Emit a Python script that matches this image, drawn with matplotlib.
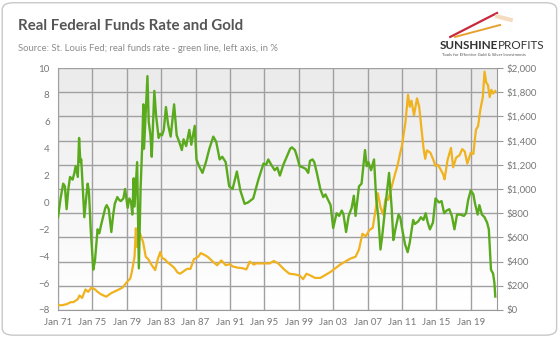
import numpy as np
import matplotlib
matplotlib.use("Agg")
from matplotlib import pyplot as plt
from matplotlib.patches import FancyBboxPatch

# Data (decimal year, value)
rate_years = [1971.0, 1971.3, 1971.6, 1971.8, 1972.0, 1972.2, 1972.4, 1972.7, 1972.9, 1973.05,
              1973.3, 1973.45, 1973.6, 1973.7, 1973.9, 1974.06, 1974.3, 1974.45, 1974.6, 1974.8,
              1975.1, 1975.3, 1975.6, 1975.8, 1976.0, 1976.27, 1976.5, 1976.66, 1976.9, 1977.2,
              1977.4, 1977.6, 1977.9, 1978.1, 1978.3, 1978.6, 1978.8, 1979.1, 1979.3, 1979.5,
              1979.64, 1979.8, 1979.9, 1980.2, 1980.4, 1980.6, 1980.8, 1980.92, 1981.0, 1981.15,
              1981.4, 1981.55, 1981.75, 1981.9, 1982.2, 1982.4, 1982.7, 1982.9, 1983.1, 1983.3,
              1983.55, 1983.8, 1984.1, 1984.5, 1984.8, 1985.1, 1985.4, 1985.6, 1985.9, 1986.27,
              1986.5, 1986.9, 1987.1, 1987.4, 1987.8, 1988.2, 1988.6, 1989.06, 1989.4, 1989.8,
              1990.1, 1990.5, 1990.9, 1991.3, 1991.8, 1992.2, 1992.5, 1992.7, 1993.1, 1993.7,
              1994.0, 1994.3, 1994.9, 1995.2, 1995.45, 1995.8, 1996.2, 1996.5, 1996.8, 1997.2,
              1997.6, 1998.0, 1998.2, 1998.55, 1998.8, 1999.1, 1999.5, 1999.8, 2000.1, 2000.3,
              2000.6, 2000.8, 2001.1, 2001.5, 2001.85, 2002.1, 2002.4, 2002.7, 2003.0, 2003.4,
              2003.7, 2004.0, 2004.2, 2004.5, 2004.8, 2005.15, 2005.4, 2005.6, 2006.0, 2006.3,
              2006.7, 2006.9, 2007.1, 2007.4, 2007.75, 2008.0, 2008.25, 2008.5, 2008.7, 2009.1,
              2009.5, 2009.8, 2010.0, 2010.2, 2010.6, 2010.8, 2011.0, 2011.35, 2011.66, 2011.9,
              2012.3, 2012.5, 2012.9, 2013.2, 2013.5, 2013.75, 2014.0, 2014.25, 2014.6, 2014.9,
              2015.3, 2015.6, 2015.9, 2016.2, 2016.5, 2016.8, 2017.1, 2017.4, 2017.8, 2018.2,
              2018.45, 2018.7, 2019.0, 2019.3, 2019.5, 2019.8, 2020.0, 2020.3, 2020.6, 2020.9,
              2021.1, 2021.35, 2021.6, 2021.75, 2021.85]
rate_vals = [-1.1, 0.3, 1.4, 1.2, -0.5, 1.0, 1.9, 1.7, 2.2, 2.7,
             1.9, 4.8, 3.0, 3.2, 0.8, -1.1, 0.5, 1.4, 0.8, -2.0,
             -5.0, -4.3, -2.0, -2.3, -1.7, -1.0, -0.4, -0.2, -0.5, -2.2,
             -1.0, -0.1, 0.4, 0.2, 0.1, 0.3, 1.0, -0.4, 0.3, 0.0,
             -0.9, 1.8, -0.3, 3.0, -4.9, 1.0, 4.4, 7.3, 4.0, 6.0,
             9.4, 6.0, 5.0, 3.4, 8.3, 6.5, 4.8, 5.1, 5.0, 5.4,
             7.1, 5.8, 4.9, 7.3, 5.0, 4.5, 3.9, 4.7, 4.2, 5.4,
             4.3, 5.7, 3.2, 2.7, 2.2, 3.0, 4.0, 4.9, 4.5, 3.2,
             3.4, 3.0, 1.2, 1.0, 2.3, 0.9, 0.3, -0.1, 0.0, 0.3,
             1.0, 1.7, 2.9, 2.8, 3.2, 2.8, 2.4, 2.6, 2.0, 2.8,
             3.4, 4.0, 4.1, 3.9, 3.4, 2.7, 2.6, 2.5, 2.2, 3.1,
             3.2, 3.0, 2.2, 1.0, 0.4, 0.6, 0.2, -0.2, -1.9, -0.8,
             -1.0, -0.6, -0.9, -2.2, -1.0, -0.4, 0.5, -1.0, 1.2, 1.4,
             3.9, 2.7, 3.0, 2.4, 3.2, 0.3, -1.1, -3.5, -2.5, -0.1,
             2.2, -0.4, -2.8, -2.1, -0.9, -1.1, -1.9, -3.1, -3.7, -3.0,
             -1.3, -1.6, -1.4, -1.1, -1.3, -0.8, -1.5, -2.0, -1.5, 0.3,
             0.0, 0.1, -0.8, -0.6, -0.5, -1.0, -2.0, -0.9, -0.9, -1.0,
             -0.8, 0.2, 0.9, 0.6, -0.1, -0.9, -0.2, -0.9, -1.1, -1.5,
             -2.0, -5.0, -5.3, -6.0, -7.0]

gold_years = [1971.0, 1971.5, 1972.0, 1972.5, 1972.8, 1973.3, 1973.5, 1973.8, 1974.2, 1974.5,
              1974.9, 1975.3, 1975.6, 1976.0, 1976.6, 1977.2, 1977.8, 1978.5, 1979.0, 1979.4,
              1979.6, 1979.9, 1980.05, 1980.2, 1980.5, 1980.9, 1981.2, 1981.5, 1981.9, 1982.3,
              1982.6, 1982.9, 1983.1, 1983.4, 1983.8, 1984.0, 1984.5, 1984.9, 1985.2, 1985.6,
              1986.0, 1986.4, 1986.8, 1987.3, 1987.6, 1987.9, 1988.4, 1989.0, 1989.5, 1990.0,
              1990.5, 1991.0, 1991.3, 1991.9, 1992.5, 1992.9, 1993.3, 1993.8, 1994.0, 1994.8,
              1995.6, 1996.1, 1996.6, 1997.3, 1997.9, 1998.5, 1999.1, 1999.5, 1999.9, 2000.5,
              2000.9, 2001.5, 2002.1, 2002.7, 2003.25, 2003.8, 2004.4, 2005.0, 2005.6, 2006.0,
              2006.4, 2006.8, 2007.2, 2007.6, 2008.0, 2008.2, 2008.5, 2008.8, 2009.1, 2009.4,
              2009.8, 2010.1, 2010.5, 2010.8, 2011.0, 2011.4, 2011.7, 2011.9, 2012.1, 2012.4,
              2012.75, 2013.0, 2013.5, 2013.7, 2013.9, 2014.3, 2014.6, 2014.9, 2015.2, 2015.8,
              2015.95, 2016.3, 2016.7, 2016.95, 2017.3, 2017.7, 2018.0, 2018.3, 2018.6, 2019.0,
              2019.3, 2019.6, 2019.85, 2020.1, 2020.4, 2020.6, 2020.8, 2021.0, 2021.2, 2021.4,
              2021.6, 2021.85]
gold_vals = [38, 40, 48, 65, 65, 90, 120, 100, 170, 150,
             185, 170, 150, 130, 110, 140, 160, 185, 230, 260,
             320, 440, 675, 520, 640, 560, 440, 420, 370, 330,
             420, 480, 430, 420, 390, 380, 350, 310, 300, 320,
             340, 340, 420, 440, 470, 460, 440, 400, 370, 410,
             370, 380, 360, 350, 345, 335, 400, 375, 385, 385,
             385, 405, 385, 335, 300, 295, 285, 255, 300, 280,
             265, 265, 290, 315, 345, 375, 400, 425, 440, 500,
             630, 610, 660, 680, 860, 965, 850, 790, 920, 910,
             1020, 1100, 1200, 1300, 1360, 1550, 1780, 1680, 1730, 1610,
             1750, 1680, 1340, 1250, 1320, 1300, 1250, 1190, 1200, 1120,
             1080, 1240, 1340, 1180, 1260, 1280, 1330, 1310, 1210, 1300,
             1290, 1490, 1520, 1650, 1760, 1970, 1880, 1860, 1760, 1820,
             1790, 1810]

tick_years = list(range(1971, 2020, 4))
tick_labels = ["Jan %02d" % (y % 100) for y in tick_years]
rate_ticks = list(range(-8, 11, 2))
gold_ticks = list(range(0, 2001, 200))
X_MIN, X_MAX = 1971.0, 2022.05

TXT = "#777777"
GRID = "#a0a0a0"

plt.rcParams['font.family'] = ['Lato', 'DejaVu Sans']

fig = plt.figure(figsize=(5.6, 3.42), dpi=100)

# rounded frame around the whole picture
frame = FancyBboxPatch((0.004, 0.02), 0.99, 0.972, boxstyle="round,pad=0,rounding_size=0.02",
                       transform=fig.transFigure, facecolor="none", edgecolor="#c8c8c8",
                       linewidth=1.0, zorder=-5)
fig.add_artist(frame)

# left axis: rate scale, x ticks
ax = fig.add_axes([0.1036, 0.0936, 0.7839, 0.7074])
ax.set_xlim(X_MIN, X_MAX)
ax.set_ylim(-8, 10)
ax.set_yticks(rate_ticks)
ax.set_xticks(tick_years)
ax.set_xticklabels(tick_labels)
ax.tick_params(axis="both", length=0, labelsize=7, labelcolor=TXT, pad=6)
for s in ["top", "right"]:
    ax.spines[s].set_visible(False)
for s in ["left", "bottom"]:
    ax.spines[s].set_color("#999999")
    ax.spines[s].set_zorder(5)

# right axis: gold, plus the background gradient and grid
ax2 = ax.twinx()
ax2.set_ylim(0, 2000)
ax2.set_yticks(gold_ticks)
ax2.set_yticklabels(["$%s" % format(v, ",") for v in gold_ticks])
ax2.tick_params(axis="y", length=4, color="#999999", labelsize=7, labelcolor=TXT, pad=3)
for s in ["top", "left", "bottom"]:
    ax2.spines[s].set_visible(False)
ax2.spines["right"].set_color("#999999")

# gray to white gradient in thin bands
edges = np.linspace(0, 2000, 61)
shades = np.linspace(1.0, 0.92, 60)
for lo, hi, g in zip(edges[:-1], edges[1:], shades):
    ax2.axhspan(lo, hi, color=(g, g, g), linewidth=0, zorder=0)

# grid drawn as plain data lines at the tick positions
for yv in tick_years:
    ax2.plot([yv, yv], [0, 2000], color=GRID, linewidth=1.0, zorder=1)
for gv in gold_ticks:
    ax2.plot([X_MIN, X_MAX], [gv, gv], color=GRID, linewidth=1.0, zorder=1)
ax2.set_xlim(X_MIN, X_MAX)
ax2.set_ylim(0, 2000)

ax2.plot(gold_years, gold_vals, color="#f0b21e", linewidth=1.6, zorder=3)

# rate on a top copy of the left axis so it sits above gold
ax3 = ax.twinx()
ax3.set_ylim(-8, 10)
ax3.set_yticks([])
for s in ax3.spines.values():
    s.set_visible(False)
ax3.plot(rate_years, rate_vals, color="#5aaa1e", linewidth=1.7)

# title block
fig.text(0.032, 0.925, "Real Federal Funds Rate and Gold", fontsize=10.8, fontweight="bold",
         color="#555555", va="center")
fig.text(0.032, 0.858, "Source: St. Louis Fed; real funds rate - green line, left axis, in %",
         fontsize=6.8, color="#8c8c8c", va="center")

# logo
fig.add_artist(plt.Line2D([0.804, 0.8875], [0.892, 0.962], color="#c8283c", linewidth=1.6,
                          transform=fig.transFigure))
fig.add_artist(plt.Line2D([0.8125, 0.893], [0.892, 0.927], color="#e8a030", linewidth=1.4,
                          transform=fig.transFigure))
fig.add_artist(plt.Line2D([0.888, 0.912], [0.952, 0.942], color="#f3dcc0", linewidth=3,
                          transform=fig.transFigure))
fig.text(0.786, 0.868, "SUNSHINE", fontsize=8.4, fontweight="bold", color="#333333", va="center")
fig.text(0.889, 0.868, "PROFITS", fontsize=8.4, color="#333333", va="center")
fig.text(0.789, 0.838, "Tools for Effective Gold & Silver Investments", fontsize=3.1,
         color="#555555", va="center")

fig.savefig("out.png", dpi=100)
